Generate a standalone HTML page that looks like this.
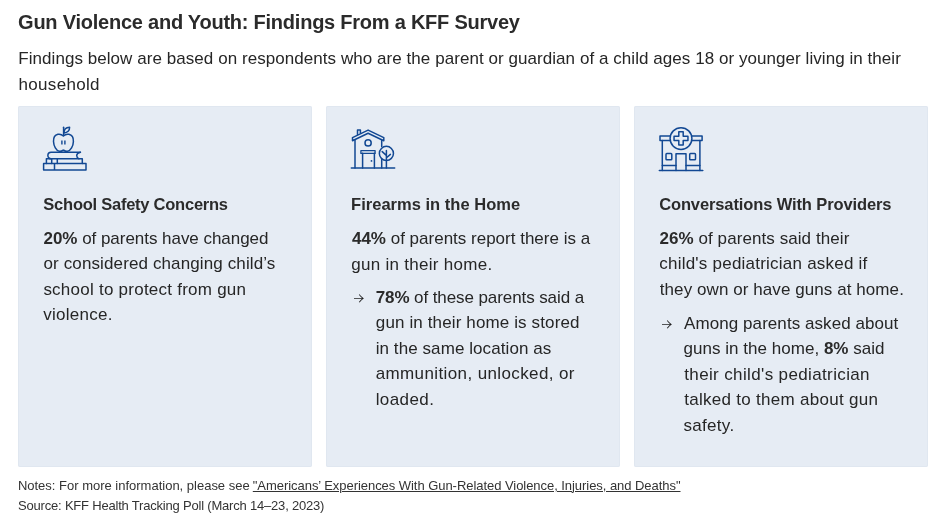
<!DOCTYPE html>
<html lang="en"><head><meta charset="utf-8"><title>Gun Violence and Youth: Findings From a KFF Survey</title>
<style>
html,body{margin:0;padding:0;background:#fff;}
body{width:943px;height:529px;position:relative;overflow:hidden;font-family:"Liberation Sans",Arial,sans-serif;}
.ln{position:absolute;white-space:nowrap;}
.ln b{font-weight:bold;color:#2b2b2b}
.ln a{text-decoration:underline;text-underline-offset:1px;text-decoration-thickness:1px;color:inherit}
.card{position:absolute;top:106px;width:294px;height:361px;background:#e6ecf4;border-radius:2px;box-shadow:inset 0 0 0 1px #e0e7f0;}
.arr{position:absolute;font-family:"Noto Sans CJK JP",sans-serif;font-weight:300;font-size:17px;line-height:20px;color:#1e1e1e;width:10.5px;overflow:hidden;}
.arr span{display:block;margin-left:-6px;}
svg.ic{position:absolute;overflow:visible}
svg.ic *{fill:none;stroke:#124893;stroke-width:1.5;stroke-linecap:round;stroke-linejoin:round}
</style></head><body>
<div class="card" style="left:18px"></div>
<div class="card" style="left:326px"></div>
<div class="card" style="left:634px"></div>
<svg class="ic" style="left:38px;top:120px" width="54" height="54" viewBox="38 120 54 54">
<path d="M63.6,127.3V135.4"/>
<path d="M64,133C63.9,129.6 65.9,127.5 69.6,127.3C69.7,130.6 67.5,132.9 64,133Z"/>
<path d="M63.4,136C61.6,134.2 59.6,134 57.9,134.3C54.6,135 53.4,138.4 53.5,141.4C53.7,145.8 56.2,150.7 59.4,151.3C61.1,151.6 62.4,150.7 63.4,150.1C64.4,150.7 65.7,151.6 67.4,151.3C70.6,150.7 73.3,145.8 73.4,141.4C73.5,138.4 72.3,135 68.9,134.3C67.2,134 65.2,134.2 63.4,136Z"/>
<path d="M61.9,140.5V144.6M64.9,140.5V144.6" style="stroke-linecap:butt;stroke-width:1.4"/>
<path d="M80.4,152.3H51.1A3.25,3.25 0 0 0 51.1,158.8"/>
<path d="M80.4,152.3C78,152.9 76.7,154.4 76.7,155.6C76.7,156.9 77.6,158.1 78.9,158.8"/>
<path d="M46.4,163.5V158.8H82.3V163.5M51.7,158.8V163.5M57.3,158.8V163.5"/>
<path d="M43.6,163.6H86V170H43.6Z M54.5,163.6V170"/>
</svg>
<svg class="ic" style="left:346px;top:120px" width="54" height="54" viewBox="346 120 54 54">
<path d="M351.3,168.1H394.7"/>
<path d="M352.5,137.6L368.1,130.1L383.8,137.6V140.7L368.1,133.3L352.5,140.7Z"/>
<path d="M357.5,134.4V129.9H360.4V133"/>
<path d="M355,140V168.1"/>
<path d="M381.7,140V146.6M381.7,159.6V168.1"/>
<circle cx="368.1" cy="142.9" r="3.1"/>
<path d="M360.9,150.7H375.1V153.4H360.9Z" style="stroke-width:1.3"/>
<path d="M362.6,153.2V168.1M374.4,153.2V168.1"/>
<circle cx="371.5" cy="160.9" r="0.9" style="fill:#124893;stroke:none"/>
<circle cx="386.4" cy="153.4" r="7.05"/>
<path d="M386.4,150.6V168.1M382.2,151.6L386.3,155.4M390.4,154.4L386.5,157.8"/>
</svg>
<svg class="ic" style="left:654px;top:120px" width="54" height="54" viewBox="654 120 54 54">
<path d="M659.3,170.4H702.8"/>
<circle cx="681" cy="138.6" r="10.9"/>
<path d="M670.3,135.9H660V140.4H670.3M691.7,135.9H702.1V140.4H691.7"/>
<path d="M662.3,140.4V170.4M699.9,140.4V170.4"/>
<path d="M678.8,131.65H683.2V136.15H687.95V140.55H683.2V145.05H678.8V140.55H674.05V136.15H678.8Z"/>
<rect x="666" y="153.6" width="5.8" height="6.1" rx="0.8"/>
<rect x="689.7" y="153.6" width="5.8" height="6.1" rx="0.8"/>
<path d="M676,170.4V153.7H686V170.4"/>
<path d="M662.3,165.4H676M686,165.4H699.9"/>
</svg>

<div class="arr" style="left:353.5px;top:288px"><span>→</span></div>
<div class="arr" style="left:661.5px;top:314px"><span>→</span></div>
<div class="ln" id="t" style="left:18.07px;top:12px;font-size:20px;line-height:20px;font-weight:bold;letter-spacing:-0.235px;color:#2b2b2b">Gun Violence and Youth: Findings From a KFF Survey</div>
<div class="ln" id="s1" style="left:18.25px;top:50px;font-size:17px;line-height:17px;font-weight:normal;letter-spacing:0.057px;color:#262626">Findings below are based on respondents who are the parent or guardian of a child ages 18 or younger living in their</div>
<div class="ln" id="s2" style="left:18.54px;top:76px;font-size:17px;line-height:17px;font-weight:normal;letter-spacing:0.312px;color:#262626">household</div>
<div class="ln" id="h1" style="left:43.36px;top:196px;font-size:16.5px;line-height:16.5px;font-weight:bold;letter-spacing:-0.246px;color:#2b2b2b">School Safety Concerns</div>
<div class="ln" id="h2" style="left:351.07px;top:196px;font-size:16.5px;line-height:16.5px;font-weight:bold;letter-spacing:0.017px;color:#2b2b2b">Firearms in the Home</div>
<div class="ln" id="h3" style="left:659.15px;top:196px;font-size:16.5px;line-height:16.5px;font-weight:bold;letter-spacing:-0.118px;color:#2b2b2b">Conversations With Providers</div>
<div class="ln" id="c1a" style="left:43.54px;top:230px;font-size:17px;line-height:17px;font-weight:normal;letter-spacing:-0.038px;color:#262626"><b>20%</b> of parents have changed</div>
<div class="ln" id="c1b" style="left:43.51px;top:255px;font-size:17px;line-height:17px;font-weight:normal;letter-spacing:0.120px;color:#262626">or considered changing child’s</div>
<div class="ln" id="c1c" style="left:43.38px;top:281px;font-size:17px;line-height:17px;font-weight:normal;letter-spacing:0.244px;color:#262626">school to protect from gun</div>
<div class="ln" id="c1d" style="left:43.28px;top:306px;font-size:17px;line-height:17px;font-weight:normal;letter-spacing:0.262px;color:#262626">violence.</div>
<div class="ln" id="c2a" style="left:351.96px;top:230px;font-size:17px;line-height:17px;font-weight:normal;letter-spacing:-0.000px;color:#262626"><b>44%</b> of parents report there is a</div>
<div class="ln" id="c2b" style="left:351.29px;top:256px;font-size:17px;line-height:17px;font-weight:normal;letter-spacing:0.284px;color:#262626">gun in their home.</div>
<div class="ln" id="c2c" style="left:375.71px;top:289px;font-size:17px;line-height:17px;font-weight:normal;letter-spacing:-0.091px;color:#262626"><b>78%</b> of these parents said a</div>
<div class="ln" id="c2d" style="left:375.85px;top:314px;font-size:17px;line-height:17px;font-weight:normal;letter-spacing:0.127px;color:#262626">gun in their home is stored</div>
<div class="ln" id="c2e" style="left:375.64px;top:340px;font-size:17px;line-height:17px;font-weight:normal;letter-spacing:0.083px;color:#262626">in the same location as</div>
<div class="ln" id="c2f" style="left:375.69px;top:365px;font-size:17px;line-height:17px;font-weight:normal;letter-spacing:0.385px;color:#262626">ammunition, unlocked, or</div>
<div class="ln" id="c2g" style="left:375.63px;top:391px;font-size:17px;line-height:17px;font-weight:normal;letter-spacing:0.416px;color:#262626">loaded.</div>
<div class="ln" id="c3a" style="left:659.42px;top:230px;font-size:17px;line-height:17px;font-weight:normal;letter-spacing:0.078px;color:#262626"><b>26%</b> of parents said their</div>
<div class="ln" id="c3b" style="left:659.28px;top:255px;font-size:17px;line-height:17px;font-weight:normal;letter-spacing:0.228px;color:#262626">child's pediatrician asked if</div>
<div class="ln" id="c3c" style="left:659.79px;top:281px;font-size:17px;line-height:17px;font-weight:normal;letter-spacing:0.074px;color:#262626">they own or have guns at home.</div>
<div class="ln" id="c3d" style="left:684.11px;top:315px;font-size:17px;line-height:17px;font-weight:normal;letter-spacing:0.065px;color:#262626">Among parents asked about</div>
<div class="ln" id="c3e" style="left:683.60px;top:340px;font-size:17px;line-height:17px;font-weight:normal;letter-spacing:0.023px;color:#262626">guns in the home, <b>8%</b> said</div>
<div class="ln" id="c3f" style="left:684.26px;top:366px;font-size:17px;line-height:17px;font-weight:normal;letter-spacing:0.366px;color:#262626">their child's pediatrician</div>
<div class="ln" id="c3g" style="left:684.26px;top:391px;font-size:17px;line-height:17px;font-weight:normal;letter-spacing:0.281px;color:#262626">talked to them about gun</div>
<div class="ln" id="c3h" style="left:683.38px;top:417px;font-size:17px;line-height:17px;font-weight:normal;letter-spacing:0.325px;color:#262626">safety.</div>
<div class="ln" id="f1" style="left:17.92px;top:479px;font-size:13px;line-height:13px;font-weight:normal;letter-spacing:-0.005px;color:#333">Notes: For more information, please see</div>
<div class="ln" id="f1l" style="left:252.80px;top:479px;font-size:13px;line-height:13px;font-weight:normal;letter-spacing:-0.049px;color:#333"><a>"Americans’ Experiences With Gun-Related Violence, Injuries, and Deaths"</a></div>
<div class="ln" id="f2" style="left:18.09px;top:499px;font-size:13px;line-height:13px;font-weight:normal;letter-spacing:-0.199px;color:#333">Source: KFF Health Tracking Poll (March 14–23, 2023)</div>
</body></html>
